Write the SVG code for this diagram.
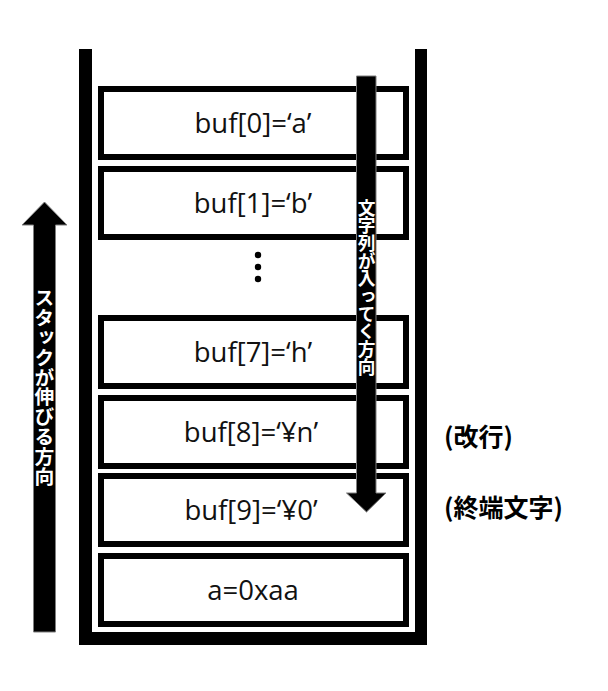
<svg xmlns="http://www.w3.org/2000/svg" width="608" height="691" viewBox="0 0 608 691">
<style>
.box{fill:#fff;stroke:#000;stroke-width:6}
.lbl{font-family:"Open Sans","Noto Sans",sans-serif;font-size:27.5px;fill:#111;text-anchor:middle}
.note{font-family:"Noto Sans CJK JP",sans-serif;font-size:25px;font-weight:bold;fill:#000}
.vt{font-family:"Noto Sans CJK JP",sans-serif;font-weight:bold;fill:#fff;writing-mode:vertical-rl;text-orientation:upright}
.arrow{fill:#000;stroke:#7f7f7f;stroke-width:1}
</style>
<rect width="608" height="691" fill="#fff"/>
<g id="stack-frame">
<path d="M79 49 H92 V632 H415 V49 H427 V645 H79 Z" fill="#000"/>
</g>
<g id="box-buf0"><rect class="box" x="101" y="89" width="305" height="68"/><text class="lbl" x="253" y="132.5">buf[0]=‘a’</text></g>
<g id="box-buf1"><rect class="box" x="101" y="169" width="305" height="68"/><text class="lbl" x="253" y="212.5">buf[1]=‘b’</text></g>
<g id="ellipsis"><circle cx="258" cy="255" r="3.2"/><circle cx="258" cy="267" r="3.2"/><circle cx="258" cy="279" r="3.2"/></g>
<g id="box-buf7"><rect class="box" x="101" y="318" width="305" height="68"/><text class="lbl" x="253" y="361.5">buf[7]=‘h’</text></g>
<g id="box-buf8"><rect class="box" x="101" y="398" width="305" height="68"/><text class="lbl" x="251" y="441.5">buf[8]=‘¥n’</text></g>
<g id="box-buf9"><rect class="box" x="101" y="476" width="305" height="68"/><text class="lbl" x="251" y="519.5">buf[9]=‘¥0’</text></g>
<g id="box-a"><rect class="box" x="101" y="556" width="305" height="68"/><text class="lbl" x="253" y="599.5">a=0xaa</text></g>
<g id="connectors">
<g id="arrow-input">
<path class="arrow" d="M356.5 76 H376 V493 H386 L366.5 512 L346.5 493 H356.5 Z"/>
<text class="vt" x="366.5" y="199" style="font-size:17.7px">文字列が入ってく方向</text>
</g>
<g id="arrow-growth">
<path class="arrow" d="M33.5 632 V225 H22 L44.5 202 L67 225 H55.5 V632 Z"/>
<text class="vt" x="44.5" y="288" style="font-size:19.8px">スタックが伸びる方向</text>
</g>
</g>
<g id="note-newline"><text class="note" x="444" y="446">(改行)</text></g>
<g id="note-terminator"><text class="note" x="444" y="517">(終端文字)</text></g>
</svg>
